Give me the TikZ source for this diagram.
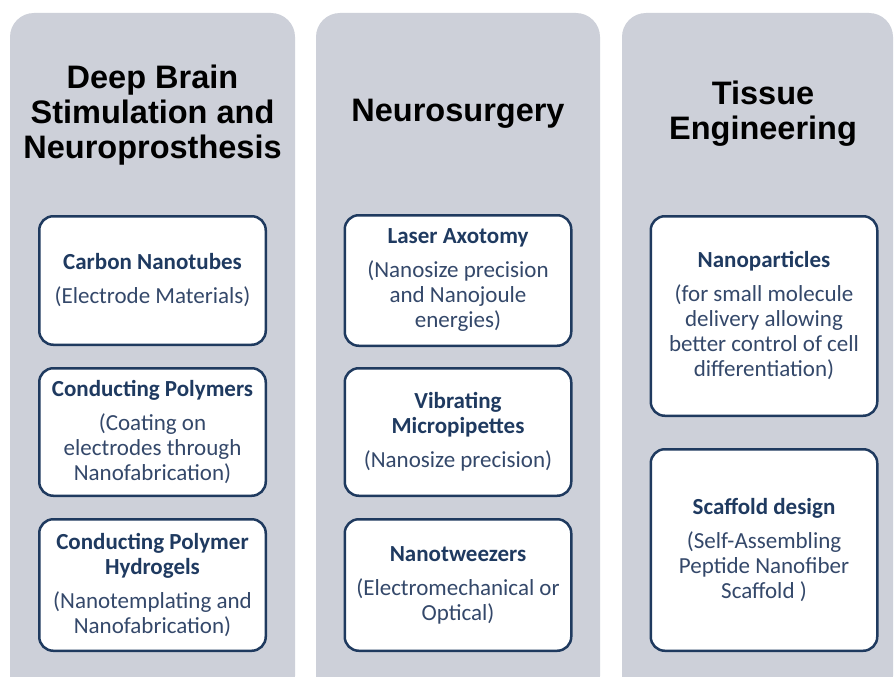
\documentclass[tikz,border=0pt]{standalone}
\usepackage{fontspec}
\setmainfont{Carlito}
\newfontfamily\headfont{Liberation Sans}
\definecolor{colbg}{HTML}{CDD0D9}
\definecolor{boxline}{HTML}{1F3A5F}
\definecolor{titletext}{HTML}{1F3A60}
\definecolor{desctext}{HTML}{34486A}
\begin{document}
\begin{tikzpicture}[x=1pt,y=-1pt,
  col/.style={fill=colbg, draw=none, rounded corners=24pt},
  head/.style={font=\headfont\bfseries\fontsize{32.5}{35}\selectfont, align=center, text=black, inner sep=0pt},
  item/.style={draw=boxline, line width=2.5pt, fill=white, rounded corners=14pt, align=center,
    font=\fontsize{23}{25}\selectfont, text=desctext, inner sep=0pt, minimum width=226.5pt}]
\useasboundingbox (0,0) rectangle (894,677);
\fill[white] (0,0) rectangle (894,677);
% columns
\path[col] (10,13) rectangle (295,700);
\path[col] (316,13) rectangle (600,700);
\path[col] (622,13) rectangle (893,700);
% headings
\node[head] (h1) at (152.5,115) {Deep Brain\\Stimulation and\\Neuroprosthesis};
\node[head] (h2) at (458,114) {Neurosurgery};
\node[head] (h3) at (763,114) {Tissue\\Engineering};
% column 1
\node[item, minimum height=128.5pt] (c1a) at (152.5,280.5)
  {{\bfseries\color{titletext}Carbon Nanotubes}\\[9pt](Electrode Materials)};
\node[item, minimum height=127.5pt] (c1b) at (152.5,432)
  {{\bfseries\color{titletext}Conducting Polymers}\\[9pt](Coating on\\electrodes through\\Nanofabrication)};
\node[item, minimum height=131.5pt] (c1c) at (152.5,585)
  {{\bfseries\color{titletext}Conducting Polymer}\\{\bfseries\color{titletext}Hydrogels}\\[9pt](Nanotemplating and\\Nanofabrication)};
% column 2
\node[item, minimum height=130.5pt] (c2a) at (458,280.5)
  {{\bfseries\color{titletext}Laser Axotomy}\\[9pt](Nanosize precision\\and Nanojoule\\energies)};
\node[item, minimum height=127.5pt] (c2b) at (458,432)
  {{\bfseries\color{titletext}Vibrating}\\{\bfseries\color{titletext}Micropipettes}\\[9pt](Nanosize precision)};
\node[item, minimum height=131.5pt] (c2c) at (458,585)
  {{\bfseries\color{titletext}Nanotweezers}\\[9pt](Electromechanical or\\Optical)};
% column 3
\node[item, minimum height=199.5pt] (c3a) at (764,316)
  {{\bfseries\color{titletext}Nanoparticles}\\[9pt](for small molecule\\delivery allowing\\better control of cell\\differentiation)};
\node[item, minimum height=201.5pt] (c3b) at (764,550)
  {{\bfseries\color{titletext}Scaffold design}\\[9pt](Self-Assembling\\Peptide Nanofiber\\Scaffold )};
\end{tikzpicture}
\end{document}
